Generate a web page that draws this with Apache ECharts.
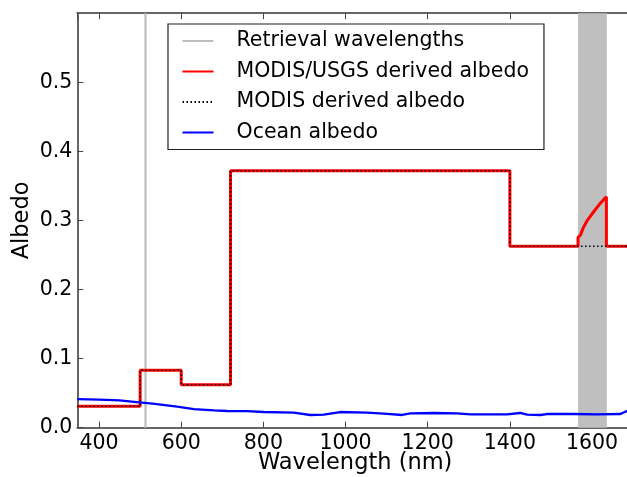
<!DOCTYPE html>
<html>
<head>
<meta charset="utf-8">
<script src="https://cdn.jsdelivr.net/npm/echarts@6/dist/echarts.min.js"></script>
<style>html,body{margin:0;padding:0;background:#fff;}#chart{width:627px;height:477px;}</style>
</head>
<body>
<div id="chart"></div>
<script>
// Retrieval wavelengths (vertical line) and retrieval band
const retrievalLine = 513;
const retrievalBand = [1566, 1636];

// MODIS/USGS derived albedo (step with enhanced band)
const usgsWl  = [347, 500, 500, 600, 600, 720, 720, 1400, 1400, 1566, 1566, 1572, 1578, 1589, 1604, 1620, 1635, 1635, 1700];
const usgsAlb = [0.031, 0.031, 0.083, 0.083, 0.062, 0.062, 0.372, 0.372, 0.2625, 0.2625, 0.2755, 0.2789, 0.2885, 0.3006, 0.3126, 0.3247, 0.3343, 0.2625, 0.2625];

// MODIS derived albedo (step)
const modisWl  = [347, 500, 500, 600, 600, 720, 720, 1400, 1400, 1700];
const modisAlb = [0.031, 0.031, 0.083, 0.083, 0.062, 0.062, 0.372, 0.372, 0.2625, 0.2625];

// Ocean albedo
const oceanWl  = [347, 400, 450, 497, 530, 590, 631, 680, 712, 760, 801, 874, 914, 947, 987, 1052, 1093, 1138, 1158, 1215, 1271, 1304, 1352, 1393, 1425, 1442, 1474, 1490, 1555, 1612, 1669, 1681, 1700];
const oceanAlb = [0.0415, 0.0405, 0.0395, 0.0367, 0.0347, 0.0304, 0.027, 0.0252, 0.0242, 0.024, 0.0227, 0.0217, 0.0184, 0.0189, 0.0227, 0.0217, 0.0203, 0.0184, 0.0208, 0.0213, 0.0208, 0.0194, 0.0194, 0.0194, 0.0213, 0.0189, 0.0184, 0.0198, 0.0198, 0.0194, 0.0198, 0.0232, 0.026];

const xMin = 347, xMax = 1700, yMin = 0, yMax = 0.6;
const seriesNames = ['Retrieval wavelengths', 'MODIS/USGS derived albedo', 'MODIS derived albedo', 'Ocean albedo'];

const zip = (a, b) => a.map((v, i) => [v, b[i]]);
const FONT = 'DejaVu Sans';
const frame = '#666';

const chart = echarts.init(document.getElementById('chart'), null, {renderer: 'canvas'});
chart.setOption({
  animation: false,
  backgroundColor: '#fff',
  grid: {left: 77.3, width: 555.8, top: 13.2, bottom: 49.3, containLabel: false, outerBoundsMode: 'none'},
  legend: {
    orient: 'vertical',
    left: 168, top: 24,
    data: seriesNames,
    backgroundColor: '#fff',
    borderColor: '#222', borderWidth: 1.2,
    padding: [6, 15, 6, 13.5],
    itemWidth: 31, itemHeight: 14, itemGap: 8.5,
    itemStyle: {opacity: 0},
    textStyle: {fontFamily: FONT, fontSize: 20.5, color: '#000', lineHeight: 22, padding: [0, 0, 0, 18]},
    z: 10
  },
  xAxis: [{
    type: 'value', min: xMin, max: xMax, splitNumber: 7,
    name: 'Wavelength (nm)', nameLocation: 'middle', nameGap: 24, nameMoveOverlap: false,
    nameTextStyle: {fontFamily: FONT, fontSize: 22.5, color: '#000'},
    axisLine: {show: true, onZero: false, lineStyle: {color: frame, width: 2}},
    axisTick: {show: true, inside: true, length: 6, lineStyle: {color: '#444', width: 1}},
    axisLabel: {fontFamily: FONT, fontSize: 20.5, color: '#000', margin: 5, showMinLabel: false, showMaxLabel: false,
      formatter: v => String(v)},
    splitLine: {show: false}
  }, {
    type: 'value', min: xMin, max: xMax, splitNumber: 7, position: 'top',
    axisLine: {show: true, onZero: false, lineStyle: {color: frame, width: 2}},
    axisTick: {show: true, inside: true, length: 6, lineStyle: {color: '#444', width: 1}},
    axisLabel: {show: false},
    splitLine: {show: false}
  }],
  yAxis: [{
    type: 'value', min: yMin, max: yMax, interval: 0.1,
    name: 'Albedo', nameLocation: 'middle', nameGap: 44, nameRotate: 90, nameMoveOverlap: false,
    nameTextStyle: {fontFamily: FONT, fontSize: 22.5, color: '#000'},
    axisLine: {show: true, onZero: false, lineStyle: {color: frame, width: 2}},
    axisTick: {show: true, inside: true, length: 6, lineStyle: {color: '#444', width: 1}},
    axisLabel: {fontFamily: FONT, fontSize: 20.5, color: '#000', margin: 5, showMaxLabel: false,
      formatter: v => v.toFixed(1)},
    splitLine: {show: false}
  }],
  series: [{
    name: seriesNames[0], type: 'line', showSymbol: false, symbol: 'none',
    data: [[retrievalLine, yMin], [retrievalLine, yMax]],
    lineStyle: {color: '#bdbdbd', width: 2.2}, itemStyle: {color: '#bdbdbd'},
    z: 2,
    markArea: {silent: true, itemStyle: {color: '#bfbfbf', opacity: 1},
      data: [[{xAxis: retrievalBand[0]}, {xAxis: retrievalBand[1]}]]}
  }, {
    name: seriesNames[1], type: 'line', showSymbol: false, symbol: 'none',
    data: zip(usgsWl, usgsAlb),
    lineStyle: {color: '#ff0000', width: 3}, itemStyle: {color: '#ff0000'}, z: 3
  }, {
    name: seriesNames[2], type: 'line', showSymbol: false, symbol: 'none',
    data: zip(modisWl, modisAlb),
    lineStyle: {color: '#000', width: 1.5, type: [1.5, 2.5]}, itemStyle: {color: '#000'}, z: 4
  }, {
    name: seriesNames[3], type: 'line', showSymbol: false, symbol: 'none',
    data: zip(oceanWl, oceanAlb),
    lineStyle: {color: '#0000ff', width: 2.3}, itemStyle: {color: '#0000ff'}, z: 5
  }]
});
</script>
</body>
</html>
